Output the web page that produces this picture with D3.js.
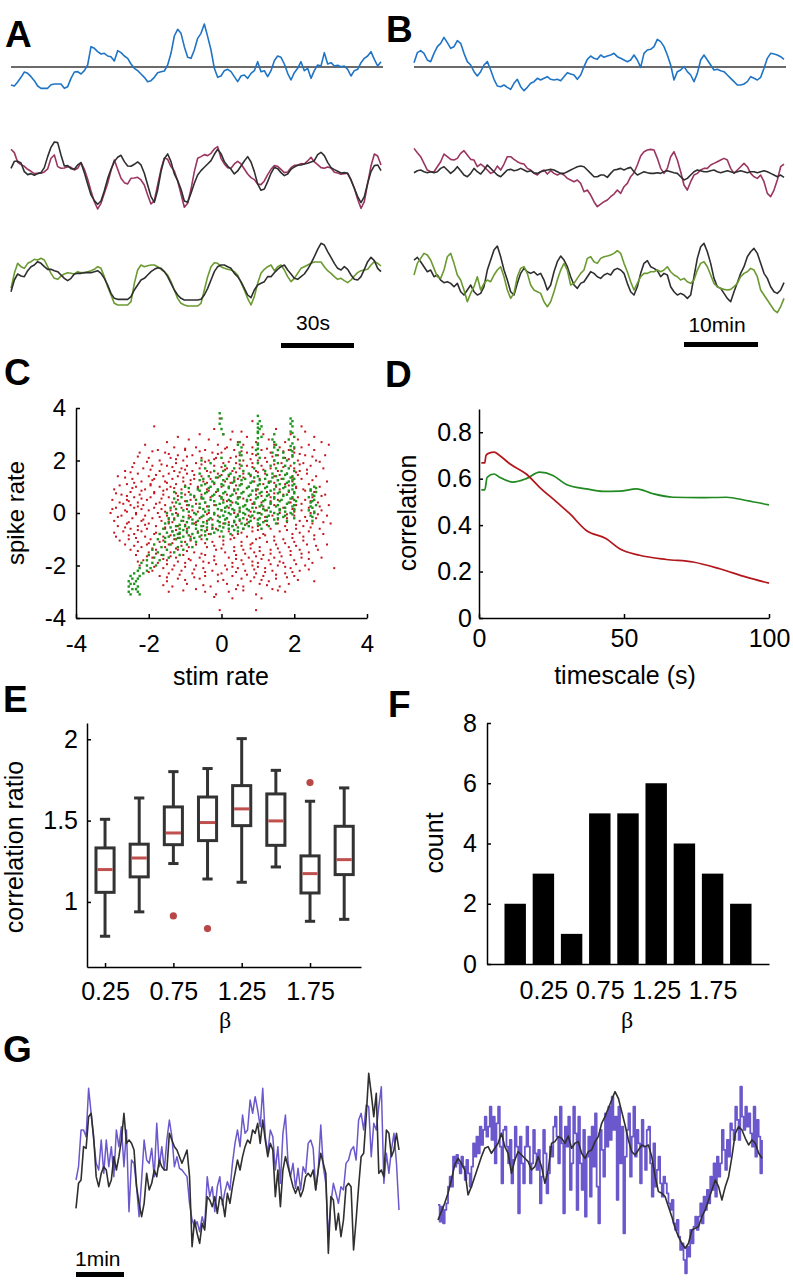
<!DOCTYPE html>
<html><head><meta charset="utf-8">
<script src="https://cdn.jsdelivr.net/npm/d3@7"></script>
<style>body{margin:0;background:#fff}svg{display:block}</style>
</head><body><svg id="fig" width="793" height="1280"></svg>
<script>
// ---------------- DATA ----------------
// Panel A traces (arbitrary units, evenly sampled)
const aBlue = [-54,-57,-45,-31,-15,-19,-29,-41,-57,-64,-64,-64,-53,-51,-51,-51,-64,-59,-34,-15,-14,-21,-11,6,61,56,46,39,41,33,31,18,49,43,33,26,9,-4,-11,-21,-31,-44,-41,-31,-17,-14,-12,6,41,93,113,101,61,29,26,51,86,101,129,91,51,-4,-31,-27,-11,-7,-14,-29,-44,-27,-24,-34,-19,-11,16,-14,-11,-29,-11,19,33,29,9,-19,-39,-17,-4,16,-11,-4,-34,-11,6,3,43,9,13,3,5,1,3,-7,-27,-11,-7,13,26,33,46,23,3,16];
const aMaroon = [72,62,33,26,21,12,6,-1,0,0,4,13,45,55,20,15,16,20,18,10,15,32,12,-18,-53,-85,-107,-90,-60,-30,8,40,12,-15,-28,-32,-15,-14,-12,-20,-35,-65,-92,-82,-35,12,46,42,20,7,-23,-62,-102,-90,-48,5,45,50,56,53,60,73,80,45,28,17,15,28,36,28,13,-2,-13,-19,-32,-34,-23,-4,12,23,21,12,2,4,17,24,25,29,28,37,48,34,26,17,15,19,16,3,1,-3,-1,0,-20,-45,-78,-105,-85,-30,22,58,52,25];
const aBlack2 = [15,36,36,31,5,-4,-1,-6,-1,2,17,50,78,94,92,55,22,23,14,12,25,32,2,-32,-65,-82,-93,-83,-52,-16,12,35,48,54,35,22,21,27,34,25,0,-35,-70,-87,-50,5,44,58,35,-2,-22,-48,-83,-87,-60,-30,-5,8,18,28,38,57,72,59,35,22,12,-2,7,22,37,50,34,5,-32,-51,-47,-25,0,18,14,2,-7,-2,12,19,24,25,28,30,34,38,56,63,53,33,17,11,6,1,2,0,-20,-45,-70,-88,-70,-30,5,23,25,8];
const aGreen = [-40,5,35,25,20,35,40,47,45,50,45,25,5,-10,-13,-3,3,7,5,3,10,7,7,10,13,17,25,20,-5,-35,-60,-85,-90,-90,-90,-90,-80,-25,15,30,25,28,30,30,25,17,10,0,-20,-45,-70,-85,-90,-93,-93,-93,-93,-85,-45,-5,25,37,35,25,20,17,15,10,0,-23,-45,-70,-90,-65,-25,5,17,25,30,13,25,30,15,-5,-20,-10,5,20,25,30,35,39,39,39,25,13,5,-5,-13,-10,-17,-23,-15,-3,7,13,15,17,30,40,35,27];
const aBlack3 = [-50,-15,3,-3,-5,13,25,30,40,35,25,17,17,13,10,0,-10,-17,-10,3,5,5,7,7,7,10,13,5,-10,-30,-55,-70,-73,-73,-73,-73,-65,-45,-30,-15,-10,0,10,17,22,20,10,-5,-25,-45,-60,-70,-75,-75,-75,-75,-75,-73,-60,-40,-15,10,25,30,30,25,20,5,-5,-20,-40,-60,-68,-45,-30,-25,-20,-5,-5,7,17,25,30,15,3,-10,-13,-5,3,17,35,55,77,95,90,70,53,35,20,15,25,17,0,-13,-15,-5,17,40,53,43,20,10];
// Panel B traces
const bBlue = [13,43,49,41,21,16,41,61,71,89,73,56,61,79,71,41,16,6,-14,-27,-14,6,16,-9,-37,-57,-59,-54,-61,-67,-49,-37,-59,-71,-61,-49,-44,-34,-39,-34,-29,-37,-39,-37,-41,-29,-17,-21,-24,-37,-24,1,23,33,26,23,36,29,33,36,41,31,26,21,16,21,36,21,-1,41,51,53,61,83,76,61,36,6,-39,-14,-9,1,-14,-24,-44,-19,21,36,21,6,-9,-7,-11,-14,-24,-34,-44,-54,-54,-51,-44,-29,-34,-39,-31,-4,26,41,39,36,31,23];
const bMaroon = [70,57,45,25,5,0,0,15,30,53,45,37,35,40,55,63,50,37,35,15,23,15,5,-5,0,17,5,23,45,45,37,30,25,23,10,5,-5,-10,0,5,-7,3,-5,-10,-5,-10,-20,-25,-30,-25,-35,-60,-55,-70,-90,-105,-97,-90,-85,-75,-67,-55,-65,-45,-35,-15,-3,20,47,60,65,67,65,40,10,-5,10,45,60,35,0,-40,-55,-30,-10,-5,5,10,10,20,25,30,35,40,35,10,-5,5,15,25,15,-5,-15,-20,-10,-30,-65,-75,-55,-25,15,23];
const bBlack2 = [-3,3,5,0,-3,0,-3,0,10,15,5,-5,3,15,3,-10,-15,-5,10,0,-7,5,20,10,0,-10,-15,-5,5,7,3,5,10,5,0,3,-3,-5,0,3,5,7,5,0,-5,-5,0,5,10,15,17,15,5,-5,-15,-15,-10,-10,-17,-5,5,7,10,5,10,13,0,-10,-5,0,-3,-5,-5,-3,-5,0,3,0,-3,-5,-15,-25,-20,-10,0,5,3,0,0,3,5,0,-3,0,3,0,-3,0,3,0,-3,0,0,-3,0,3,0,-5,-10,-15,-10,-17];
const bGreen = [5,40,55,70,65,50,25,0,-5,20,60,70,40,5,-10,-40,-75,-50,-30,0,-40,-20,-10,-15,5,20,30,0,-40,-65,-50,0,25,30,10,-25,-40,-45,-50,-75,-90,-75,-45,-10,20,40,20,-25,-20,-5,10,20,55,60,45,40,55,60,62,65,70,78,70,40,15,-15,-40,-20,0,10,10,15,15,20,15,20,30,15,5,0,-10,-5,-15,-20,-10,20,40,45,30,5,-20,-30,-35,-38,-40,-38,-30,-20,0,10,15,25,20,0,-40,-55,-70,-85,-100,-108,-90,-65];
const bBlack3 = [50,58,45,30,15,20,0,5,-10,-18,-15,-20,-30,-20,-45,-55,-40,-25,-45,-55,-50,-30,20,50,80,92,60,20,-10,-45,-55,-20,10,25,15,10,15,5,10,-10,-40,-25,15,45,62,50,30,0,-25,-35,-20,-15,0,15,10,0,-5,5,10,5,20,25,20,10,-20,-45,-55,-30,10,40,48,30,25,18,0,10,5,-30,-45,-55,-50,-55,-65,-55,0,55,90,100,75,40,-5,-30,-35,-50,-65,-75,-45,-18,10,30,60,75,85,70,40,10,-5,-30,-45,-50,-40,-18];
// Panel C scatter: rows of [spike rate, [stim rate values]]
const redRows = [
[3.6,[-0.05]],[3.5,[0.85]],[3.3,[-1.85,2.2]],[3.2,[-0.2,1.5]],[3.1,[0.3,0.55,2.3]],[3.0,[-0.6,0.05,1.15,1.9]],
[2.9,[-1.2,0.7,2.55]],[2.8,[-0.9,-0.35,0.25,1.3,2.1]],[2.7,[-1.5,0.45,0.95,1.75,2.75]],[2.6,[-2.1,-0.1,0.6,1.45,2.4,2.95]],
[2.5,[-1.3,-0.7,0.15,0.85,1.6,2.2]],[2.4,[-1.75,-1.0,-0.45,0.35,1.1,1.85,2.55]],[2.3,[-2.25,-1.55,-0.25,0.0,0.7,1.35,2.0]],
[2.2,[-1.2,-0.8,0.5,0.95,1.55,2.3,2.85]],[2.1,[-2.0,-1.4,-0.55,-0.15,0.25,1.2,1.75]],[2.0,[-1.7,-1.05,-0.35,0.6,1.0,1.45,2.1,2.6]],
[1.9,[-2.4,-1.25,-0.7,0.05,0.4,0.85,1.65,2.25]],[1.8,[-1.9,-1.5,-0.95,-0.2,0.7,1.1,1.9,2.45]],[1.7,[-2.15,-1.1,-0.6,0.15,0.5,1.35,2.0,2.8]],
[1.6,[-2.65,-1.7,-1.3,-0.8,-0.4,0.3,0.95,1.55,2.15]],[1.5,[-2.3,-1.45,-0.95,-0.1,0.6,1.2,1.8,2.35]],[1.4,[-2.85,-2.0,-1.6,-1.2,-0.55,0.2,0.8,1.45,2.6]],
[1.3,[-2.45,-1.85,-1.35,-0.75,-0.3,0.45,1.05,1.65,2.2]],[1.2,[-2.2,-1.55,-1.05,-0.5,0.1,0.9,1.3,1.95,2.9]],[1.1,[-2.6,-1.95,-1.25,-0.85,-0.2,0.55,1.15,1.75,2.4]],
[1.0,[-2.35,-1.7,-1.4,-0.65,0.0,0.75,1.5,2.05,2.7]],[0.9,[-2.95,-2.1,-1.5,-1.1,-0.4,0.35,1.0,1.6,2.25]],[0.8,[-2.5,-1.85,-1.3,-0.9,-0.15,0.6,1.25,1.85,2.55]],
[0.7,[-2.75,-2.25,-1.6,-1.0,-0.55,0.15,0.95,1.7,2.85]],[0.6,[-2.4,-1.95,-1.45,-0.75,-0.3,0.45,1.35,2.1,2.5]],[0.5,[-3.0,-2.6,-2.05,-1.2,-0.85,0.05,0.8,1.55,2.3]],
[0.4,[-2.8,-2.3,-1.7,-1.35,-0.45,0.3,1.1,1.9,2.65]],[0.3,[-2.5,-2.15,-1.55,-0.95,-0.2,0.65,1.45,2.05,2.95]],[0.2,[-2.9,-2.4,-1.85,-1.1,-0.6,0.2,0.95,1.7,2.4]],
[0.1,[-2.65,-2.0,-1.4,-0.8,0.0,0.5,1.25,2.2,2.75]],[0.0,[-3.05,-2.35,-1.75,-1.25,-0.35,0.35,1.05,1.6,2.45]],[-0.1,[-2.75,-2.1,-1.5,-0.9,-0.1,0.75,1.4,2.0,2.9]],
[-0.2,[-2.45,-1.9,-1.3,-0.6,0.15,0.9,1.8,2.6]],[-0.3,[-2.95,-2.2,-1.65,-1.05,-0.4,0.5,1.2,2.15,2.35]],[-0.4,[-2.6,-2.0,-1.45,-0.75,0.05,0.7,1.55,2.5,3.0]],
[-0.5,[-2.85,-2.3,-1.8,-1.2,-0.5,0.3,1.0,1.75,2.25]],[-0.6,[-2.5,-2.05,-1.55,-0.95,-0.15,0.6,1.35,2.05,2.7]],[-0.7,[-2.7,-2.2,-1.35,-0.65,0.2,0.85,1.6,2.4]],
[-0.8,[-2.4,-1.85,-1.15,-0.35,0.45,1.15,1.95,2.8]],[-0.9,[-2.9,-2.1,-1.6,-0.85,-0.05,0.7,1.45,2.25]],[-1.0,[-2.55,-1.95,-1.3,-0.55,0.25,0.95,1.7,2.55]],
[-1.1,[-2.3,-1.7,-1.0,-0.25,0.55,1.25,2.0]],[-1.2,[-2.65,-2.05,-1.45,-0.7,0.05,0.8,1.5,2.35,2.9]],[-1.3,[-2.2,-1.55,-0.9,-0.4,0.35,1.05,1.85]],
[-1.4,[-2.5,-1.8,-1.2,-0.15,0.6,1.35,2.15,2.65]],[-1.5,[-2.0,-1.4,-0.75,0.1,0.9,1.6,2.4]],[-1.6,[-2.35,-1.65,-1.05,-0.45,0.4,1.15,1.9]],
[-1.7,[-1.9,-1.25,-0.6,0.2,0.75,1.45,2.2,2.75]],[-1.8,[-2.15,-1.5,-0.85,-0.2,0.55,1.3,2.0]],[-1.9,[-1.75,-1.0,-0.35,0.3,1.0,1.7,2.5]],
[-2.0,[-2.25,-1.3,-0.7,0.1,0.85,1.55,2.3]],[-2.1,[-1.6,-0.5,0.45,1.2,1.9,3.1]],[-2.2,[-1.9,-1.1,-0.25,0.65,1.4,2.15]],
[-2.3,[-1.45,-0.8,0.0,0.95,1.75]],[-2.4,[-1.7,-0.45,0.3,1.15,2.0]],[-2.5,[-1.2,-0.6,0.55,1.5]],[-2.6,[-1.5,-0.1,0.8,1.3,2.55]],
[-2.7,[-0.95,0.15,1.05,1.85]],[-2.8,[-1.35,-0.3,0.6,1.6]],[-2.9,[-0.7,0.4,1.4]],[-3.0,[-1.45,-0.45,0.2,1.75]],[-3.1,[-0.15,0.95]],
[-3.2,[-0.2]],[-3.7,[-0.05,0.95]],
[2.45,[-1.0,0.1,1.25,2.0]],[2.35,[-1.9,-0.6,0.55,1.7]],[2.25,[-1.45,-0.1,0.85,2.15]],[2.15,[-2.3,-0.95,0.4,1.4,2.5]],
[2.05,[-1.25,-0.2,0.8,1.85]],[1.95,[-2.05,-0.45,0.2,1.25,2.7]],[1.85,[-1.65,-0.55,0.5,1.45,2.15]],[1.75,[-2.45,-1.35,0.0,0.85,1.7]],
[1.65,[-1.95,-1.0,0.1,1.15,2.35]],[1.55,[-2.5,-1.15,-0.3,0.4,1.0,2.05]],[1.45,[-1.8,-0.75,0.0,1.6,2.1]],[1.35,[-2.65,-1.05,-0.1,0.6,1.95]],
[1.25,[-1.9,-0.85,0.35,1.55,2.5]],[1.15,[-2.4,-1.5,-0.4,0.25,1.45]],[1.05,[-2.8,-1.95,-1.0,0.4,1.85]],[0.95,[-2.45,-1.3,-0.65,0.7,2.05]],
[0.85,[-2.2,-1.6,-0.35,0.95,2.3]],[0.75,[-2.9,-1.85,-1.25,0.4,1.45]],[0.65,[-2.6,-1.2,-0.05,1.1,2.75]],[0.55,[-2.2,-1.65,-0.55,0.6,1.95]],
[0.45,[-2.55,-1.0,0.15,1.35,2.45]],[0.35,[-2.7,-1.8,-0.7,0.85,2.2]],[0.25,[-2.3,-1.3,-0.4,1.15,2.7]],[0.15,[-3.0,-2.2,-1.65,-0.95,0.7,1.95]],
[0.05,[-2.6,-1.55,-0.65,0.8,2.0]],[-0.05,[-2.35,-1.2,-0.4,0.45,1.8,2.65]],[-0.15,[-2.85,-1.7,-0.85,1.2,2.3]],[-0.25,[-2.15,-1.45,-0.25,0.7,1.55]],
[-0.35,[-2.55,-1.35,-0.7,0.2,1.8,2.8]],[-0.45,[-2.1,-1.0,0.4,1.25,2.05]],[-0.55,[-2.65,-1.55,-0.25,0.85,2.45]],[-0.65,[-2.3,-1.25,-0.4,1.0,1.8]],
[-0.75,[-2.95,-1.8,-0.95,0.55,2.15]],[-0.85,[-2.55,-1.4,-0.55,0.3,1.2,2.55]],[-0.95,[-2.35,-1.2,0.35,1.05,1.95]],[-1.05,[-2.8,-1.6,-0.85,0.05,1.45,2.25]],
[-1.15,[-2.0,-1.35,-0.45,0.85,1.75]],[-1.25,[-2.4,-1.1,-0.2,0.55,2.05,2.6]],[-1.35,[-1.9,-1.25,0.0,0.8,1.55]],[-1.45,[-2.3,-0.95,0.35,1.05,1.9]],
[-1.55,[-1.8,-0.55,0.65,1.35,2.2]],[-1.65,[-2.05,-1.4,-0.2,0.95,1.65]],[-1.75,[-1.6,-0.9,0.4,1.1,2.4]],[-1.85,[-2.3,-1.2,-0.5,0.85,1.6]],
[-1.95,[-1.5,-0.15,0.6,1.35,2.05]],[-2.05,[-1.85,-1.0,0.3,1.0,1.75]],[-2.15,[-1.35,-0.75,0.15,0.9,2.4]],[-2.25,[-2.0,-0.45,0.4,1.2,1.95]],
[-2.35,[-1.15,-0.1,0.7,1.5]],[-2.45,[-1.5,-0.75,0.9,1.8]],[-2.55,[-1.0,0.05,1.1,2.1]],[-2.75,[-1.6,-0.5,0.45,1.25]],
[-2.95,[-1.05,0.6,1.55]],[-3.25,[0.3,1.1]]
];
const greenRows = [
[3.8,[-0.05]],[3.7,[1.0]],[3.6,[0.0,1.9]],[3.5,[1.05,1.95]],[3.4,[-0.05,1.0,1.9]],[3.3,[1.1,1.95]],[3.2,[0.0,1.05]],
[3.1,[1.0,1.9]],[3.0,[0.05,1.45]],[2.9,[1.1,2.0]],[2.8,[1.4,1.85]],[2.7,[0.5,1.45]],[2.6,[0.45,1.0,1.5]],[2.5,[0.55,1.45,2.0]],
[2.4,[0.95,1.55,1.9]],[2.3,[0.5,1.4,1.7]],[2.2,[0.55,1.5,1.95]],[2.1,[0.0,1.05,1.7]],[2.0,[-0.55,0.5,1.45,1.8]],
[1.9,[-0.3,1.0,1.55,2.0]],[1.8,[0.1,0.55,1.35,1.75]],[1.7,[-0.45,0.35,0.9,1.5,1.85]],[1.6,[-0.2,0.05,0.6,1.2,1.65,2.0]],
[1.5,[-0.6,0.25,0.75,1.4,1.8]],[1.4,[-0.35,-0.05,0.5,1.0,1.5,1.95]],[1.3,[-0.5,0.15,0.65,1.2,1.7,2.0]],[1.2,[-0.25,0.35,0.85,1.35,1.85]],
[1.1,[-0.45,0.0,0.55,1.05,1.6,2.0]],[1.0,[-1.0,-0.3,0.2,0.75,1.25,1.75,2.55]],[0.9,[-0.65,-0.1,0.45,0.95,1.45,1.95,2.45]],
[0.8,[-1.3,-0.4,0.1,0.6,1.1,1.6,2.0,2.6]],[0.7,[-0.85,-0.2,0.3,0.8,1.3,1.8,2.5]],[0.6,[-1.1,-0.55,0.0,0.5,1.0,1.45,1.95,2.4]],
[0.5,[-0.7,-0.3,0.2,0.7,1.2,1.65,2.0,2.55]],[0.4,[-1.25,-0.45,0.05,0.4,0.9,1.35,1.85,2.45]],[0.3,[-0.9,-0.15,0.25,0.65,1.1,1.55,2.0,2.6]],
[0.2,[-1.4,-0.6,0.1,0.5,0.85,1.3,1.75,2.5]],[0.1,[-1.05,-0.35,0.0,0.35,0.75,1.2,1.6,2.0,2.4]],[0.0,[-1.5,-0.75,-0.2,0.2,0.6,1.0,1.45,1.9,2.55]],
[-0.1,[-1.2,-0.5,0.05,0.45,0.85,1.3,1.75,2.45]],[-0.2,[-1.45,-0.9,-0.3,0.15,0.6,1.05,1.55,2.0]],[-0.3,[-1.1,-0.65,-0.1,0.35,0.8,1.25,1.8,2.5]],
[-0.4,[-1.55,-0.8,-0.4,0.1,0.55,1.0,1.5]],[-0.5,[-1.25,-1.0,-0.55,-0.05,0.3,0.75,1.3]],[-0.6,[-1.6,-1.15,-0.7,-0.25,0.2,0.6,1.1]],
[-0.7,[-1.35,-0.95,-0.45,0.0,0.45]],[-0.8,[-1.7,-1.2,-0.8,-0.3,0.25]],[-0.9,[-1.45,-1.05,-0.6,0.05]],[-1.0,[-1.75,-1.25,-0.85,-0.4]],
[-1.1,[-1.55,-1.1,-0.7]],[-1.2,[-1.85,-1.4,-0.95]],[-1.3,[-1.65,-1.2,-0.8]],[-1.4,[-1.9,-1.5,-1.05]],[-1.5,[-1.75,-1.3]],
[-1.6,[-2.0,-1.6,-1.15]],[-1.7,[-1.85,-1.45]],[-1.8,[-2.05,-1.7]],[-1.9,[-2.2,-1.9]],[-2.0,[-2.05,-1.8]],[-2.1,[-2.25,-1.95]],
[-2.2,[-2.3,-2.05]],[-2.3,[-2.4,-2.15]],[-2.4,[-2.5,-2.25]],[-2.5,[-2.45,-2.3]],[-2.6,[-2.55,-2.35]],[-2.7,[-2.5,-2.4]],
[-2.8,[-2.55,-2.3]],[-2.9,[-2.45,-2.35]],[-3.0,[-2.55,-2.3]],[-3.1,[-2.5,-2.25]],
[1.45,[0.2,0.8,1.25,1.75]],[1.35,[-0.15,0.35,0.9,1.4,1.9]],[1.25,[-0.6,0.05,0.55,1.05,1.55,1.95]],[1.15,[-0.2,0.3,0.8,1.3,1.8]],
[1.05,[-0.55,0.05,0.5,1.0,1.5,1.95]],[0.95,[-0.9,-0.35,0.2,0.7,1.2,1.7,2.6]],[0.85,[-0.6,-0.1,0.35,0.85,1.35,1.85,2.45]],
[0.75,[-1.1,-0.45,0.05,0.55,1.05,1.55,2.0]],[0.65,[-0.75,-0.25,0.25,0.75,1.25,1.7,2.55]],[0.55,[-1.3,-0.5,0.0,0.45,0.95,1.45,1.9]],
[0.45,[-0.95,-0.2,0.25,0.7,1.15,1.6,2.05,2.5]],[0.35,[-1.15,-0.6,-0.05,0.45,0.9,1.35,1.8]],[0.25,[-0.8,-0.35,0.15,0.6,1.05,1.5,1.95,2.45]],
[0.15,[-1.25,-0.5,-0.1,0.3,0.7,1.15,1.6,2.0]],[0.05,[-0.9,-0.45,0.1,0.5,0.9,1.35,1.75,2.55]],[-0.05,[-1.35,-0.7,-0.2,0.25,0.65,1.1,1.55,1.95]],
[-0.15,[-1.05,-0.55,-0.05,0.4,0.8,1.25,1.7,2.5]],[-0.25,[-1.3,-0.8,-0.35,0.1,0.5,1.0,1.45]],[-0.35,[-1.45,-0.95,-0.5,-0.05,0.35,0.75,1.15]],
[-0.45,[-1.15,-0.7,-0.25,0.2,0.65,1.05]],[-0.55,[-1.4,-0.9,-0.4,0.05,0.45]],[-0.65,[-1.05,-0.55,-0.1,0.35]],[-0.75,[-1.5,-1.15,-0.65,-0.2]],
[-0.85,[-1.3,-0.9,-0.45]],[-0.95,[-1.55,-1.15,-0.75]],
[3.25,[1.0]],[3.05,[1.0,1.95]],[2.85,[1.0]],[2.65,[1.0,1.95]],[2.45,[1.0]],[2.25,[1.0]],[2.15,[1.95]],[2.35,[1.95]],[2.55,[1.9]]
];
const cTicks = [-4,-2,0,2,4];
// Panel D
const dRedT = [0.8,2.0,2.4,3.5,5.2,7.1,10.6,16.3,20.9,26.7,31.3,37.0,43.9,48.5,55.4,64.6,73.8,83.0,92.2,100];
const dRedV = [0.668,0.668,0.70,0.71,0.714,0.70,0.664,0.62,0.563,0.50,0.449,0.377,0.341,0.298,0.27,0.252,0.241,0.212,0.176,0.15];
const dGreenT = [0.8,2.0,2.8,5.2,7.1,11.7,16.3,20.9,25.5,30.1,37.0,42.8,48.5,54.3,60.0,66.9,76.1,85.3,92.2,100];
const dGreenV = [0.552,0.552,0.606,0.62,0.606,0.585,0.60,0.628,0.614,0.575,0.556,0.545,0.546,0.556,0.535,0.52,0.518,0.52,0.506,0.487];
const dXTicks = [0,50,100];
const dYTicks = [0,0.2,0.4,0.6,0.8];
// Panel E boxplots
const eBeta = [0.25,0.5,0.75,1.0,1.25,1.5,1.75,2.0];
const eWhiskLo = [0.789,0.939,1.236,1.141,1.121,1.215,0.881,0.893];
const eQ1 = [1.059,1.154,1.352,1.377,1.469,1.348,1.055,1.168];
const eMedian = [1.199,1.27,1.424,1.488,1.572,1.498,1.174,1.26];
const eQ3 = [1.332,1.355,1.584,1.645,1.715,1.664,1.283,1.465];
const eWhiskHi = [1.508,1.639,1.801,1.82,2.004,1.809,1.619,1.701];
const eOutlierBeta = [0.75,1.0,1.75];
const eOutlierVal = [0.914,0.836,1.734];
const eXTicks = [0.25,0.75,1.25,1.75];
const eYTicks = [1,1.5,2];
// Panel F histogram
const fBeta = [0,0.25,0.5,0.75,1.0,1.25,1.5,1.75,2.0];
const fCount = [2,3,1,5,5,6,4,3,2];
const fXTicks = [0.25,0.75,1.25,1.75];
const fYTicks = [0,2,4,6,8];
// Panel G traces
const gLeftPurple = [-30,10,120,120,100,245,170,90,20,0,90,-10,90,10,70,-20,120,70,130,10,120,-125,30,20,-50,-140,-30,90,30,20,65,-20,140,10,70,0,90,150,100,10,40,5,0,-10,-20,-100,-150,-170,-155,-185,-140,-170,-20,-80,-50,-125,-50,-20,-105,-65,-35,-60,20,80,120,70,165,110,120,210,170,220,180,130,245,100,50,120,100,0,70,-40,110,165,25,-20,20,-55,5,-60,10,-10,80,90,65,-60,0,135,10,-40,-200,-100,-40,-70,-100,-50,-60,20,30,60,70,30,150,170,120,195,190,40,140,120,190,250,-40,50,-10,60,110,20,-120];
const gLeftBlack = [-115,-40,-30,70,65,160,170,100,-20,-50,-10,10,0,-50,-30,40,0,40,90,170,80,90,80,60,-50,-100,-140,-100,-10,-60,-40,0,-20,30,10,0,0,110,90,70,60,40,20,40,60,-20,-230,-150,-190,-220,-160,-180,-80,-90,-110,-80,-130,-80,-90,-140,-70,-100,-50,-10,30,0,40,70,90,80,120,110,140,80,150,90,40,80,60,-80,0,-110,0,40,10,-20,-50,-70,-50,-80,-60,-20,-10,-20,0,-60,0,50,20,-10,-250,-80,-90,-180,-130,-200,-150,-50,-40,-50,-240,-150,-50,40,50,160,290,230,160,230,-10,0,-20,120,110,40,60,110,60];
const gRightPurple = [-125,-175,-130,-180,-140,-120,
-70,-40,-70,20,-10,25,0,-30,20,-10,-50,10,
-30,-70,-10,60,20,80,30,110,55,100,140,80,
110,170,70,140,0,120,170,50,-60,100,110,50,
0,70,-60,10,110,50,-150,80,0,-60,50,110,
50,-60,0,100,30,-20,40,-120,-40,100,30,-90,
-30,50,20,110,140,80,0,170,60,-150,110,50,
140,-80,0,170,90,-140,140,0,-80,100,-160,20,
80,-100,110,-10,150,-70,-180,100,40,-40,150,50,
170,70,200,100,140,-110,170,0,110,-210,20,100,
150,-40,80,170,20,100,60,-60,130,50,-20,100,
110,0,-100,60,-70,-20,20,-60,-100,-40,-60,-90,
-120,-140,-110,-180,-200,-170,-220,-260,-240,-290,-330,-250,
-280,-200,-240,-190,-160,-200,-160,-120,-180,-100,-140,-80,
-120,-40,-80,0,-100,20,-40,0,100,40,-20,70,
20,120,100,70,170,130,70,230,140,100,170,110,
150,90,50,170,20,130,80,-30,70];
const gRightBlack = [-170,-145,-120,-90,-50,-5,15,0,-20,-95,-70,-40,-10,20,45,50,30,45,60,90,50,30,-30,10,35,25,15,5,-20,-10,20,-10,-60,-20,60,65,80,75,60,82,45,60,65,30,15,35,40,65,80,120,140,165,190,215,195,155,115,70,35,25,40,55,50,55,20,-40,-85,-90,-100,-130,-160,-195,-220,-240,-255,-240,-200,-195,-190,-160,-140,-110,-80,-50,-70,-110,-70,-40,20,90,110,100,75,55,70,60,30,15];

// ---------------- DRAWING ----------------
const svg = d3.select("#fig");
svg.append("rect").attr("width",793).attr("height",1280).attr("fill","#fff");
const SANS = "'Liberation Sans', Arial, Helvetica, sans-serif";
const SERIF = "'Liberation Serif', 'DejaVu Serif', serif";
const C_BLUE="#1f74c6", C_MAROON="#9a3560", C_DARK="#2f2f2f", C_OLIVE="#6a9a30", C_PURPLE="#6a58cc";
const fmtNum = d => String(d);

function letter(t,x,y){
  svg.append("text").attr("x",x).attr("y",y).text(t).attr("font-family",SANS)
    .attr("font-weight","bold").attr("font-size",37).attr("fill","#000");
}
function trace(vals,x0,x1,base,color,w,curve){
  const x=d3.scaleLinear().domain([0,vals.length-1]).range([x0,x1]);
  const y=d3.scaleLinear().domain([-300,300]).range([base+100,base-100]);
  svg.append("path").datum(vals)
    .attr("d",d3.line().x((d,i)=>x(i)).y(d=>y(d)).curve(curve||d3.curveLinear))
    .attr("fill","none").attr("stroke",color).attr("stroke-width",w)
    .attr("stroke-linejoin","round");
}
function hline(x0,x1,y,color,w){
  svg.append("line").attr("x1",x0).attr("x2",x1).attr("y1",y).attr("y2",y)
    .attr("stroke",color).attr("stroke-width",w);
}
function scaleBar(x0,x1,y,label,tx,ty){
  svg.append("rect").attr("x",x0).attr("y",y).attr("width",x1-x0).attr("height",5).attr("fill","#000");
  svg.append("text").attr("x",tx).attr("y",ty).attr("text-anchor","middle").attr("font-family",SANS)
    .attr("font-size",21).text(label);
}
function styleAxis(g,fs){
  g.attr("font-family",SANS).attr("font-size",fs);
  g.selectAll("path.domain").attr("stroke","#000").attr("stroke-width",1.5);
  g.selectAll(".tick line").attr("stroke","#000").attr("stroke-width",1.5);
  g.selectAll(".tick text").attr("fill","#000");
}
function yTitle(t,x,y,fs){
  svg.append("text").attr("transform",`translate(${x},${y}) rotate(-90)`).attr("text-anchor","middle")
    .attr("font-family",SANS).attr("font-size",fs||25).text(t);
}
function xTitle(t,x,y,fam,fs){
  svg.append("text").attr("x",x).attr("y",y).attr("text-anchor","middle")
    .attr("font-family",fam||SANS).attr("font-size",fs||25).text(t);
}

// ---- Panel A ----
letter("A",5,47);
hline(11,383,67,"#3a3a3a",1.5);
trace(aBlue,11,381,67,C_BLUE,1.6);
trace(aMaroon,11,381,173.3,C_MAROON,1.6);
trace(aBlack2,11,381,173.3,C_DARK,1.6);
trace(aGreen,11,381,275,C_OLIVE,1.6);
trace(aBlack3,11,381,275,C_DARK,1.6);
scaleBar(281,354,343,"30s",313,330);

// ---- Panel B ----
letter("B",386,42);
hline(414,786,67,"#3a3a3a",1.5);
trace(bBlue,414,784,67,C_BLUE,1.6);
trace(bMaroon,414,784,171.7,C_MAROON,1.6);
trace(bBlack2,414,784,171.7,C_DARK,1.6);
trace(bBlack3,414,784,276.7,C_DARK,1.6);
trace(bGreen,414,784,276.7,C_OLIVE,1.6);
scaleBar(684,758,342,"10min",717,332);

// ---- Panel C ----
letter("C",4,385);
{
  const x=d3.scaleLinear().domain([-4,4]).range([76,367]);
  const y=d3.scaleLinear().domain([-4,4]).range([618,408]);
  const red=[], green=[];
  redRows.forEach(([sy,xs])=>xs.forEach(sx=>red.push([sx,sy])));
  greenRows.forEach(([sy,xs])=>xs.forEach(sx=>green.push([sx,sy])));
  svg.append("g").selectAll("rect").data(red).join("rect")
    .attr("x",d=>x(d[0])-1).attr("y",d=>y(d[1])-1).attr("width",2).attr("height",2).attr("fill","#c4161c");
  svg.append("g").selectAll("rect").data(green).join("rect")
    .attr("x",d=>x(d[0])-1.2).attr("y",d=>y(d[1])-1.2).attr("width",2.4).attr("height",2.4).attr("fill","#1e951e");
  const gx=svg.append("g").attr("transform","translate(0,618)")
    .call(d3.axisBottom(x).tickValues(cTicks).tickSize(-4).tickSizeOuter(0).tickPadding(17).tickFormat(fmtNum));
  styleAxis(gx,24);
  const gy=svg.append("g").attr("transform","translate(76,0)")
    .call(d3.axisLeft(y).tickValues(cTicks).tickSize(-4).tickSizeOuter(0).tickPadding(10).tickFormat(fmtNum));
  styleAxis(gy,24);
  yTitle("spike rate",24,513,24);
  xTitle("stim rate",221,685);
}

// ---- Panel D ----
letter("D",385,387);
{
  const x=d3.scaleLinear().domain([0,100]).range([479,769]);
  const y=d3.scaleLinear().domain([0,0.9]).range([618,409]);
  const line=d3.line().x(d=>x(d[0])).y(d=>y(d[1])).curve(d3.curveMonotoneX);
  svg.append("path").datum(dGreenT.map((t,i)=>[t,dGreenV[i]])).attr("d",line)
    .attr("fill","none").attr("stroke","#208a20").attr("stroke-width",1.7);
  svg.append("path").datum(dRedT.map((t,i)=>[t,dRedV[i]])).attr("d",line)
    .attr("fill","none").attr("stroke","#b3161b").attr("stroke-width",1.7);
  const gx=svg.append("g").attr("transform","translate(0,618)")
    .call(d3.axisBottom(x).tickValues(dXTicks).tickSize(-4).tickSizeOuter(0).tickPadding(11).tickFormat(fmtNum));
  styleAxis(gx,25);
  const gy=svg.append("g").attr("transform","translate(479,0)")
    .call(d3.axisLeft(y).tickValues(dYTicks).tickSize(-4).tickSizeOuter(0).tickPadding(7)
      .tickFormat(d=>d===0?"0":d3.format(".1f")(d)));
  styleAxis(gy,25);
  yTitle("correlation",416,513);
  xTitle("timescale (s)",625,684);
}

// ---- Panel E ----
letter("E",3,712);
{
  const x=d3.scaleLinear().domain([0.118,2.123]).range([87,361]);
  const y=d3.scaleLinear().domain([0.6,2.1]).range([967,723]);
  const bw=0.53*(x(0.5)-x(0.25)), cw=0.3*(x(0.5)-x(0.25));
  const g=svg.append("g");
  eBeta.forEach((b,i)=>{
    const cx=x(b);
    const st=(sel)=>sel.attr("stroke","#333").attr("stroke-width",3);
    st(g.append("line").attr("x1",cx).attr("x2",cx).attr("y1",y(eWhiskHi[i])).attr("y2",y(eQ3[i])));
    st(g.append("line").attr("x1",cx).attr("x2",cx).attr("y1",y(eQ1[i])).attr("y2",y(eWhiskLo[i])));
    st(g.append("line").attr("x1",cx-cw/2).attr("x2",cx+cw/2).attr("y1",y(eWhiskHi[i])).attr("y2",y(eWhiskHi[i])));
    st(g.append("line").attr("x1",cx-cw/2).attr("x2",cx+cw/2).attr("y1",y(eWhiskLo[i])).attr("y2",y(eWhiskLo[i])));
    st(g.append("rect").attr("x",cx-bw/2).attr("y",y(eQ3[i])).attr("width",bw).attr("height",y(eQ1[i])-y(eQ3[i])).attr("fill","none"));
    g.append("line").attr("x1",cx-bw/2+1.5).attr("x2",cx+bw/2-1.5).attr("y1",y(eMedian[i])).attr("y2",y(eMedian[i]))
      .attr("stroke","#c0504d").attr("stroke-width",3);
  });
  eOutlierBeta.forEach((b,i)=>{
    g.append("circle").attr("cx",x(b)).attr("cy",y(eOutlierVal[i])).attr("r",3.6).attr("fill","#b84848");
  });
  const gx=svg.append("g").attr("transform","translate(0,967)")
    .call(d3.axisBottom(x).tickValues(eXTicks).tickSize(-4).tickSizeOuter(0).tickPadding(15).tickFormat(d3.format(".2f")));
  styleAxis(gx,25);
  const gy=svg.append("g").attr("transform","translate(87,0)")
    .call(d3.axisLeft(y).tickValues(eYTicks).tickSize(-4).tickSizeOuter(0).tickPadding(9).tickFormat(fmtNum));
  styleAxis(gy,25);
  yTitle("correlation ratio",23,847);
  xTitle("β",225,1028,SERIF,24);
}

// ---- Panel F ----
letter("F",388,717);
{
  const x=d3.scaleLinear().domain([-0.25,2.25]).range([487,769]);
  const y=d3.scaleLinear().domain([0,8]).range([964,723]);
  const w=0.76*(x(0.25)-x(0));
  svg.append("g").selectAll("rect").data(fBeta).join("rect")
    .attr("x",(d)=>x(d)-w/2).attr("width",w)
    .attr("y",(d,i)=>y(fCount[i])).attr("height",(d,i)=>y(0)-y(fCount[i])).attr("fill","#000");
  const gx=svg.append("g").attr("transform","translate(0,964)")
    .call(d3.axisBottom(x).tickValues(fXTicks).tickSize(0).tickSizeOuter(0).tickPadding(17).tickFormat(d3.format(".2f")));
  styleAxis(gx,25);
  const gy=svg.append("g").attr("transform","translate(487,0)")
    .call(d3.axisLeft(y).tickValues(fYTicks).tickSize(-4).tickSizeOuter(0).tickPadding(10).tickFormat(fmtNum));
  styleAxis(gy,25);
  yTitle("count",443,843);
  xTitle("β",627,1028,SERIF,24);
}

// ---- Panel G ----
letter("G",3,1062);
trace(gLeftPurple,76,399,1170,C_PURPLE,1.5);
trace(gLeftBlack,76,399,1170,C_DARK,1.6);
trace(gRightPurple,438,762,1163.3,C_PURPLE,1.8,d3.curveStepAfter);
trace(gRightBlack,438,762,1163.3,C_DARK,1.6);
svg.append("rect").attr("x",76).attr("y",1272).attr("width",48).attr("height",5).attr("fill","#000");
svg.append("text").attr("x",75).attr("y",1266).attr("font-family",SANS).attr("font-size",21).text("1min");
</script></body></html>
